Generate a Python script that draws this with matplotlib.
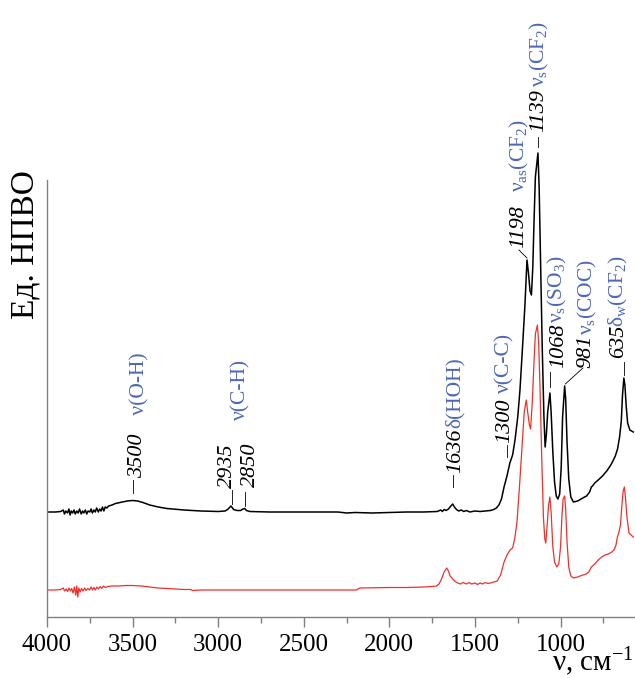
import numpy as np
import matplotlib.pyplot as plt

# ========= fonts =========
plt.rcParams.update(
    {
        "font.family": "Liberation Serif",
        "mathtext.fontset": "custom",
        "mathtext.rm": "Liberation Serif",
        "mathtext.it": "Liberation Serif:italic",
        "mathtext.bf": "Liberation Serif:bold",
    }
)

# ========= spectra (wavenumber, cm-1 / intensity, a.u.) =========
wn_black = [
    4000, 3950, 3920, 3905, 3898, 3890, 3880, 3872, 3865, 3858, 3850, 3842, 3835,
    3826, 3818, 3810, 3800, 3792, 3785, 3776, 3768, 3760, 3750, 3742, 3735, 3726,
    3718, 3710, 3700, 3692, 3684, 3676, 3668, 3660, 3650, 3640, 3620, 3600, 3560,
    3530, 3500, 3470, 3440, 3400, 3350, 3300, 3200, 3100, 3000, 2960, 2945, 2925,
    2910, 2890, 2870, 2855, 2845, 2835, 2815, 2700, 2500, 2300, 2250, 2200, 2100,
    2000, 1900, 1800, 1720, 1700, 1690, 1680, 1668, 1655, 1643, 1630, 1620, 1608,
    1595, 1580, 1565, 1550, 1530, 1500, 1470, 1440, 1410, 1390, 1375, 1360, 1345,
    1330, 1313, 1296, 1280, 1266, 1250, 1237, 1222, 1208, 1196, 1188, 1178, 1170,
    1162, 1155, 1147, 1132, 1125, 1117, 1107, 1097, 1090, 1083, 1075, 1062, 1055,
    1045, 1035, 1025, 1015, 1005, 996, 988, 976, 970, 962, 952, 940, 925, 900, 870,
    848, 830, 820, 813, 800, 780, 755, 730, 710, 697, 680, 667, 655, 645, 638, 630,
    624, 616, 608, 595, 575,
]
abs_black = [
    105, 105, 105.5, 107, 103, 106, 104, 108, 102, 106, 104, 107, 103,
    106, 104, 108, 103, 106, 104, 107, 103, 106, 105, 108, 104, 107,
    105, 109, 105, 108, 106, 110, 106, 110, 109, 111, 112, 113.5, 115,
    116, 116.5, 116, 114.5, 112, 110, 108.5, 107, 106, 105.5, 106, 107.5, 111,
    107.5, 106.5, 106.5, 108, 108.5, 106.5, 105.5, 105, 105, 105, 104, 104.5, 104,
    104.5, 105, 105, 105.5, 107, 105.5, 107.5, 106.5, 108, 110.5, 113, 110, 107.5,
    106, 107, 105.5, 106.5, 105, 106, 105.5, 106, 106.5, 107.5, 109, 112, 118,
    130, 141, 154, 162, 177, 200, 227, 270, 312, 357, 345, 326, 322,
    350, 395, 440, 464, 430, 360, 270, 200, 170, 182, 205, 224, 205,
    165, 135, 121, 118, 123, 150, 200, 231, 218, 175, 138, 120, 115, 116, 119,
    121, 125, 130, 131, 134, 137, 141, 146, 151, 155, 161, 168, 180, 196, 222, 239,
    232, 210, 194, 187, 185,
]

wn_red = [
    4000, 3950, 3920, 3905, 3897, 3888, 3880, 3872, 3864, 3856, 3848, 3840, 3832,
    3826, 3820, 3814, 3806, 3798, 3790, 3780, 3772, 3762, 3752, 3742, 3734, 3726,
    3718, 3708, 3700, 3690, 3680, 3670, 3660, 3645, 3620, 3580, 3540, 3500, 3450,
    3400, 3350, 3300, 3250, 3200, 3160, 3150, 3100, 2800, 2500, 2300, 2190, 2180,
    2170, 2000, 1900, 1800, 1750, 1725, 1710, 1695, 1680, 1665, 1655, 1645, 1630,
    1615, 1600, 1585, 1570, 1550, 1535, 1520, 1500, 1485, 1470, 1455, 1440, 1425,
    1410, 1390, 1370, 1350, 1330, 1310, 1295, 1280, 1268, 1255, 1240, 1226, 1212,
    1200, 1192, 1182, 1175, 1165, 1155, 1147, 1135, 1128, 1120, 1110, 1100, 1092,
    1086, 1078, 1070, 1062, 1055, 1045, 1035, 1022, 1010, 1000, 992, 985, 976, 970,
    962, 952, 940, 925, 900, 870, 850, 835, 820, 800, 780, 760, 740, 720, 700, 688,
    676, 668, 660, 650, 640, 634, 627, 620, 612, 600, 575,
]
abs_red = [
    27, 27, 27.5, 29, 26, 28, 25.5, 29, 26, 28.5, 24, 30, 22,
    31, 20, 29, 25, 28.5, 26, 29, 26.5, 28.5, 27, 30, 27, 29.5,
    27, 30, 28, 30.5, 28.5, 31, 29.5, 30.5, 31, 31, 31.5, 31.5, 31,
    30, 29, 28.5, 28, 27.5, 27.5, 26.5, 27, 27, 27, 27, 27, 28.5,
    29, 29.5, 29.5, 30, 30.5, 31, 33, 38, 45, 49, 46, 41, 38,
    35.5, 34, 33, 34.5, 33, 34.5, 33, 34, 32.5, 34, 33, 34.5, 33.5,
    34, 35, 36, 42, 55, 63, 67, 69, 78, 94, 130, 167, 205,
    217, 205, 192, 188, 215, 255, 283, 292, 275, 230, 160, 100, 78,
    74, 92, 112, 120, 105, 70, 55, 50, 53, 70, 100, 118, 121, 108,
    75, 50, 41, 39, 40, 42, 43, 45, 50, 53, 57, 60, 62, 63, 65, 67,
    72, 80, 84, 92, 115, 126, 130, 118, 100, 84, 80,
]

# ========= peak labels =========
peak_numbers = ["3500", "2935", "2850", "1636", "1300", "1198", "1139", "1068", "981", "635"]
peak_assign = [
    " ν(O-H)", None, "ν(C-H)", "δ(HOH)", "ν(C-C)",
    r"ν$_{\rm as}$(CF$_2$)", r"ν$_{\rm s}$(CF$_2$)", r"ν$_{\rm s}$(SO$_3$)",
    r"ν$_{\rm s}$(COC)", r"δ$_{\rm w}$(CF$_2$)",
]

# leader (x0, y0, x1, y1), number anchor (x, y), assignment anchor (x, y)
layout = [
    ((3498, 124, 3498, 137), (3445, 139), (3432, 197)),
    ((2922, 113, 2922, 127), (2919, 129), None),
    ((2843, 111, 2843, 125), (2785, 130), (2838, 197)),
    ((1628, 130, 1628, 142), (1588, 144), (1588, 189)),
    ((1313, 160, 1313, 172), (1301, 174), (1301, 224)),
    ((1196, 359, 1243, 367), (1220, 369), (1208, 425)),
    ((1132, 470, 1132, 480), (1103, 485), (1093, 530)),
    ((1060, 230, 1060, 245), (986, 249), (986, 294)),
    ((972, 233, 869, 249), (828, 249), (811, 282)),
    ((630, 242, 630, 255), (636, 259), (630, 290)),
]

blue = "#4d66b6"

fig = plt.figure(figsize=(6.35, 6.78), dpi=100)
ax = fig.add_axes([47 / 635, 61 / 678, 588 / 635, 617 / 678])

ax.plot(wn_red, abs_red, color="#f0302c", lw=0.9)
ax.plot(wn_black, abs_black, color="black", lw=1.1)

for num, assign, (lead, pnum, pas) in zip(peak_numbers, peak_assign, layout):
    ax.plot([lead[0], lead[2]], [lead[1], lead[3]], color="black", lw=0.6)
    ax.text(pnum[0], pnum[1], num, rotation=90, rotation_mode="anchor",
            ha="left", va="baseline", fontsize=16, style="italic", color="black")
    if assign is not None:
        ax.text(pas[0], pas[1], assign, rotation=90, rotation_mode="anchor",
                ha="left", va="baseline", fontsize=15.5, color=blue)

ax.set_xlim(4000, 565)
ax.set_ylim(0, 617)
ax.set_xticks(np.arange(4000, 999, -500))
ax.set_xticks(np.arange(3750, 560, -500), minor=True)
ax.set_yticks([])
ax.tick_params(axis="x", which="major", direction="out", length=7, width=1.0,
               color="#808080", labelsize=18, pad=5)
ax.tick_params(axis="x", which="minor", direction="out", length=4, width=1.0,
               color="#808080")
for s in ["top", "right"]:
    ax.spines[s].set_visible(False)
ax.spines["left"].set_bounds(0, 437)
ax.spines["left"].set_color("#808080")
ax.spines["bottom"].set_color("#808080")
ax.spines["left"].set_linewidth(1.0)
ax.spines["bottom"].set_linewidth(1.0)
ax.patch.set_visible(False)

fig.text(25 / 635, 1 - 245 / 678, "Ед. НПВО", rotation=90, ha="center", va="center",
         fontsize=24)
fig.text(634 / 635, 7 / 678, r"ν, см$^{-1}$", ha="right", va="baseline", fontsize=21)

fig.savefig("out.png", dpi=100)
